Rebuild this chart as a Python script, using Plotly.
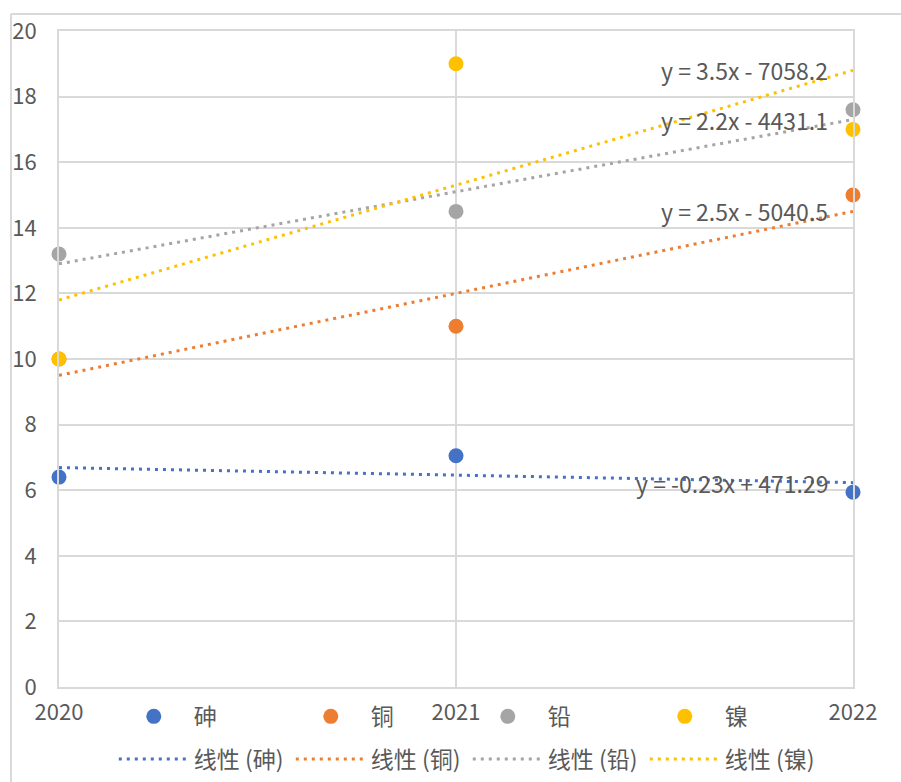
import plotly.graph_objects as go

# Heavy-metal measurements per year
years = [2020, 2021, 2022]
metals = ["砷", "铜", "铅", "镍"]
arsenic = [6.4, 7.05, 5.94]
copper = [10, 11, 15]
lead = [13.2, 14.5, 17.6]
nickel = [10, 19, 17]

# Linear trend coefficients (y = slope * x + intercept)
slopes = [-0.23, 2.5, 2.2, 3.5]
intercepts = [471.29, -5040.5, -4431.1, -7058.2]

colors = ["#4472C4", "#ED7D31", "#A5A5A5", "#FFC000"]
series = [arsenic, copper, lead, nickel]

FONT = "Noto Sans CJK SC"
TEXT = "#595959"
GRID = "#D9D9D9"

fig = go.Figure()

for name, vals, col in zip(metals, series, colors):
    fig.add_trace(go.Scatter(
        x=years, y=vals, mode="markers", name=name,
        marker=dict(size=15, color=col), legend="legend",
        cliponaxis=False,
    ))

x0, x1 = years[0], years[-1]
for name, m, b, col in zip(metals, slopes, intercepts, colors):
    fig.add_trace(go.Scatter(
        x=[x0, x1], y=[m * x0 + b, m * x1 + b], mode="lines",
        name=f"线性 ({name})",
        line=dict(color=col, width=3, dash="3px,5px"),
        legend="legend2",
    ))


def equation(m, b):
    sign = "+" if b >= 0 else "-"
    return f"y = {m:g}x {sign} {abs(b):g}"


for m, b in zip(slopes, intercepts):
    fig.add_annotation(
        x=2021.942, y=m * x1 + b, xref="x", yref="y",
        text=equation(m, b), showarrow=False,
        xanchor="right", yanchor="middle",
        font=dict(family=FONT, size=23, color=TEXT),
    )

# chart-area frame (left and top edges)
fig.add_shape(type="line", xref="paper", yref="paper",
              x0=-0.0605, x1=-0.0605, y0=1.026, y1=-0.2,
              line=dict(color=GRID, width=2))
fig.add_shape(type="line", xref="paper", yref="paper",
              x0=-0.0605, x1=1.1, y0=1.026, y1=1.026,
              line=dict(color=GRID, width=2))

legend_common = dict(
    orientation="h", xanchor="left", yanchor="top",
    font=dict(family=FONT, size=23, color=TEXT),
    bgcolor="rgba(0,0,0,0)", itemwidth=70,
    entrywidth=92, entrywidthmode="pixels",
    itemclick=False, itemdoubleclick=False,
)

fig.update_layout(
    width=901, height=782,
    margin=dict(l=59, r=48, t=31, b=95, autoexpand=False),
    paper_bgcolor="white", plot_bgcolor="white",
    font=dict(family=FONT, size=22, color=TEXT),
    showlegend=True,
    legend=dict(x=0.069, y=-0.012, **legend_common),
    legend2=dict(x=0.069, y=-0.077, **legend_common),
    xaxis=dict(
        range=[2020, 2022], tickvals=years, ticktext=[str(y) for y in years],
        showgrid=True, gridcolor=GRID, gridwidth=2, zeroline=False,
        showline=True, mirror=True, linecolor=GRID, linewidth=2,
        ticks="", ticklabelstandoff=5,
        tickfont=dict(family=FONT, size=22, color=TEXT),
    ),
    yaxis=dict(
        range=[0, 20], dtick=2, tick0=0,
        showgrid=True, gridcolor=GRID, gridwidth=2, zeroline=False,
        showline=True, mirror=True, linecolor=GRID, linewidth=2,
        ticks="", ticklabelstandoff=16,
        tickfont=dict(family=FONT, size=22, color=TEXT),
    ),
)

fig.write_html("out.html")
